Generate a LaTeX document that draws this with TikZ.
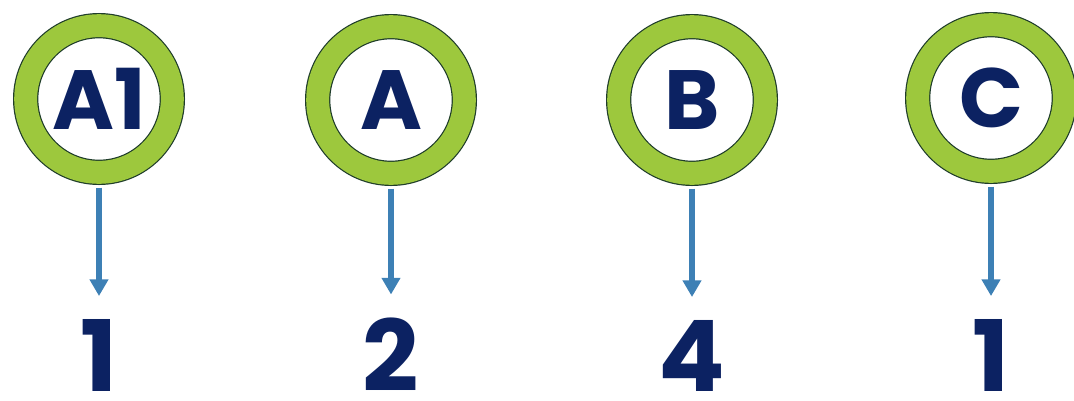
\documentclass[tikz,border=0pt]{standalone}
\usepackage{fontspec}
\setmainfont{Poppins}
\usepackage{tikz}
\usetikzlibrary{arrows.meta}
\definecolor{ringgreen}{HTML}{9DC83D}
\definecolor{ringedge}{HTML}{1F3D2A}
\definecolor{navy}{HTML}{0C2262}
\definecolor{arrowblue}{HTML}{3D80B5}

\begin{document}
\begin{tikzpicture}[x=0.75pt,y=-0.75pt,
  every node/.style={text=navy,font=\bfseries},
  ring/.style={circle,draw=ringedge,line width=0.9pt,double=ringgreen,double distance=17.2pt,
    fill=white,minimum size=110pt,inner sep=0pt,font=\fontsize{63}{63}\selectfont\bfseries},
  count/.style={anchor=base,inner sep=0pt,font=\fontsize{74}{74}\selectfont\bfseries},
  link/.style={arrowblue,line width=4pt,-{Triangle[width=13.5pt,length=12.5pt]},
    shorten <=11pt,shorten >=17pt}]
\useasboundingbox (0,0) rectangle (1074,400);
% rings
\node[ring] (a1) at (99,99) {A1};
\node[ring] (a) at (391,100) {A};
\node[ring] (b) at (692,100) {B};
\node[ring] (c) at (991,98) {C};
% counts
\node[count] (n1) at (99,391) {1};
\node[count] (n2) at (391,391) {2};
\node[count] (n4) at (692,391) {4};
\node[count] (nc) at (991,391) {1};
% arrows
\draw[link] (a1.south) -- (n1.north);
\draw[link] (a.south) -- (n2.north);
\draw[link] (b.south) -- (n4.north);
\draw[link] (c.south) -- (nc.north);
\end{tikzpicture}
\end{document}
